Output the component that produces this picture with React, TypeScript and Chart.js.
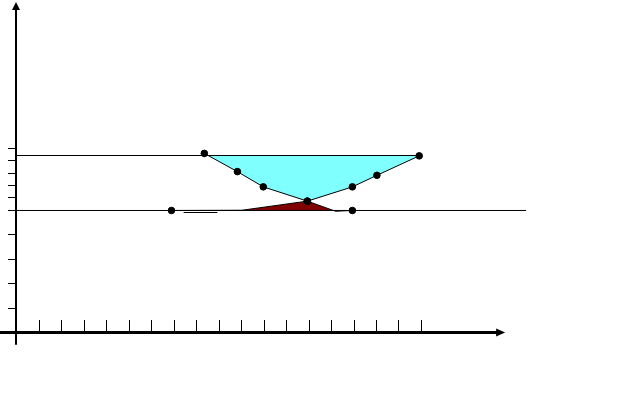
import React, { useEffect, useRef } from "react";
import { Chart, registerables } from "chart.js";

Chart.register(...registerables);

// ---- data (axis units) ----
const xTickValues = [1, 2, 3, 4, 5, 6, 7, 8, 9, 10, 11, 12, 13, 14, 15, 16, 17, 18];
const yTickValues = [1, 2, 3, 4, 5, 5.5, 6, 6.5, 7, 7.5];

const upperLevel = 7.195;
const upperLineEnd = 17.92;
const lowerLevel = 4.96;
const lowerLineEnd = 22.67;

const curveX = [8.37, 9.84, 10.99, 12.95, 14.95, 16.04, 17.92];
const curveY = [7.28, 6.54, 5.92, 5.34, 5.92, 6.39, 7.18];

const lowerX = [6.91, 10.04, 12.95, 14.2, 14.95];
const lowerY = [4.96, 4.97, 5.34, 4.93, 4.96];
const lowerMarked = [true, false, true, false, true];

const sliverX = [7.45, 8.95];
const sliverY = [4.878, 4.878];

// axis extents (axis units)
const xAxisStart = -0.72;
const xAxisEnd = 21.74;
const yAxisBottom = -0.5;
const yAxisTop = 13.43;

const CYAN = "#80FFFF";
const DARK_RED = "#800000";

const axesPlugin = {
  id: "arrowAxes",
  afterDraw(chart: any) {
    const ctx = chart.ctx;
    const xs = chart.scales.x;
    const ys = chart.scales.y;
    const x0 = xs.getPixelForValue(0);
    const y0 = ys.getPixelForValue(0);
    ctx.save();
    ctx.strokeStyle = "#000";
    ctx.fillStyle = "#000";

    // y axis
    const yTop = ys.getPixelForValue(yAxisTop);
    const yBot = ys.getPixelForValue(yAxisBottom);
    ctx.lineWidth = 2;
    ctx.beginPath();
    ctx.moveTo(x0, yBot);
    ctx.lineTo(x0, yTop + 6);
    ctx.stroke();
    ctx.beginPath();
    ctx.moveTo(x0, yTop);
    ctx.lineTo(x0 - 4, yTop + 8);
    ctx.lineTo(x0 + 4, yTop + 8);
    ctx.closePath();
    ctx.fill();

    // x axis
    const xL = xs.getPixelForValue(xAxisStart);
    const xR = xs.getPixelForValue(xAxisEnd);
    ctx.lineWidth = 3;
    ctx.beginPath();
    ctx.moveTo(xL, y0);
    ctx.lineTo(xR - 6, y0);
    ctx.stroke();
    ctx.beginPath();
    ctx.moveTo(xR, y0);
    ctx.lineTo(xR - 9, y0 - 4);
    ctx.lineTo(xR - 9, y0 + 4);
    ctx.closePath();
    ctx.fill();

    // x ticks (pointing up)
    ctx.lineWidth = 1;
    xTickValues.forEach((v) => {
      const px = Math.round(xs.getPixelForValue(v)) + 0.5;
      ctx.beginPath();
      ctx.moveTo(px, y0 - 1.5);
      ctx.lineTo(px, y0 - 12.5);
      ctx.stroke();
    });
    // y ticks (pointing left)
    yTickValues.forEach((v) => {
      const py = Math.round(ys.getPixelForValue(v)) + 0.5;
      ctx.beginPath();
      ctx.moveTo(x0 - 1, py);
      ctx.lineTo(x0 - 8, py);
      ctx.stroke();
    });
    ctx.restore();
  },
};

export default function App() {
  const ref = useRef<HTMLCanvasElement | null>(null);
  useEffect(() => {
    if (!ref.current) return;
    const pts = (xa: number[], ya: number[]) => xa.map((x, i) => ({ x, y: ya[i] }));
    const chart = new Chart(ref.current, {
      type: "scatter",
      data: {
        datasets: [
          {
            data: [
              { x: 0, y: upperLevel },
              { x: upperLineEnd, y: upperLevel },
            ],
            showLine: true,
            borderColor: "#000",
            borderWidth: 1,
            pointRadius: 0,
            fill: false,
          },
          {
            data: [
              { x: 0, y: lowerLevel },
              { x: lowerLineEnd, y: lowerLevel },
            ],
            showLine: true,
            borderColor: "#000",
            borderWidth: 1,
            pointRadius: 0,
            fill: false,
          },
          {
            data: pts(sliverX, sliverY),
            showLine: true,
            borderColor: "#000",
            borderWidth: 1,
            pointRadius: 0,
            fill: false,
          },
          {
            data: pts(lowerX, lowerY),
            showLine: true,
            borderColor: "#000",
            borderWidth: 1,
            backgroundColor: DARK_RED,
            pointBackgroundColor: "#000",
            pointBorderColor: "#000",
            pointRadius: lowerMarked.map((m) => (m ? 3.3 : 0)),
            fill: { value: lowerLevel },
          },
          {
            data: pts(curveX, curveY),
            showLine: true,
            borderColor: "#000",
            borderWidth: 1,
            backgroundColor: CYAN,
            pointBackgroundColor: "#000",
            pointBorderColor: "#000",
            pointRadius: 3.3,
            fill: { value: upperLevel },
          },
        ],
      },
      options: {
        responsive: false,
        animation: false,
        events: [],
        layout: { autoPadding: false, padding: { left: 16, right: 0, top: 0, bottom: 67.5 } },
        scales: {
          x: { type: "linear", display: false, min: 0, max: 624 / 22.5 },
          y: { type: "linear", display: false, min: 0, max: 332.5 / 24.6 },
        },
        plugins: {
          legend: { display: false },
          tooltip: { enabled: false },
          filler: { drawTime: "beforeDatasetsDraw" },
        },
        datasets: { scatter: { clip: false } },
      } as any,
      plugins: [axesPlugin],
    });
    return () => chart.destroy();
  }, []);
  return (
    <div style={{ position: "fixed", left: 0, top: 0, width: 640, height: 400, background: "#fff" }}>
      <canvas ref={ref} width={640} height={400} style={{ display: "block" }} />
    </div>
  );
}
